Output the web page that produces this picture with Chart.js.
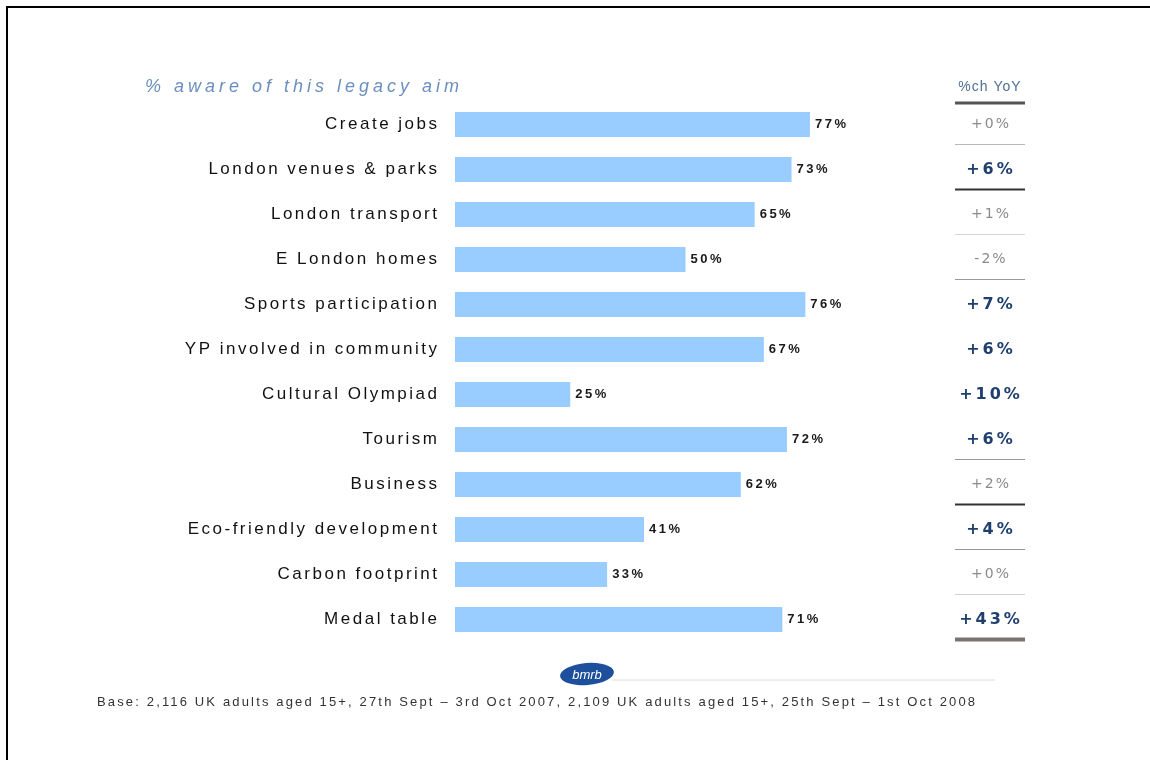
<!DOCTYPE html>
<html>
<head>
<meta charset="utf-8">
<script src="https://cdn.jsdelivr.net/npm/chart.js@4/dist/chart.umd.min.js"></script>
<style>
  html, body { margin: 0; padding: 0; background: #fff; }
  #wrap { position: relative; width: 1150px; height: 760px; }
  #frame { position: absolute; left: 6px; top: 6px; right: 0; bottom: 0;
           border-top: 2px solid #000; border-left: 2px solid #000; pointer-events: none; }
</style>
</head>
<body>
<div id="wrap">
  <canvas id="chart"></canvas>
  <div id="frame"></div>
</div>
<script>
var aims = ["Create jobs", "London venues & parks", "London transport", "E London homes",
    "Sports participation", "YP involved in community", "Cultural Olympiad", "Tourism",
    "Business", "Eco-friendly development", "Carbon footprint", "Medal table"];
var aware = [77, 73, 65, 50, 76, 67, 25, 72, 62, 41, 33, 71];
var yoyChange = ["+0%", "+6%", "+1%", "-2%", "+7%", "+6%", "+10%", "+6%", "+2%", "+4%", "+0%", "+43%"];
var yoySignificant = [false, true, false, false, true, true, true, true, false, true, false, true];

var chartTitle = "% aware of this legacy aim";
var yoyHeader = "%ch YoY";
var baseNote = "Base: 2,116 UK adults aged 15+, 27th Sept \u2013 3rd Oct 2007, 2,109 UK adults aged 15+, 25th Sept \u2013 1st Oct 2008";

// rule drawn under each row of the YoY column: [colour, width] or null
var rowRules = [["#b8b8b8", 1], ["#333", 2], ["#d8d8d8", 1], ["#999", 1], null, null, null,
    ["#999", 1], ["#333", 2], ["#999", 1], ["#d0d0d0", 1], ["#7a7470", 4]];

var letterSpacingPlugin = {
    id: "spacing",
    beforeDraw: function (chart) { chart.ctx.letterSpacing = "2.5px"; },
    beforeDatasetsDraw: function (chart) { chart.ctx.letterSpacing = "0px"; }
};

var overlayPlugin = {
    id: "overlay",
    afterDraw: function (chart) {
        var ctx = chart.ctx;
        var meta = chart.getDatasetMeta(0);
        var yScale = chart.scales.y;
        var colX = 990;
        ctx.save();

        // value labels at the end of each bar
        ctx.font = "bold 13px 'Liberation Sans', Arial, sans-serif";
        ctx.letterSpacing = "2.5px";
        ctx.fillStyle = "#1a1a1a";
        ctx.textAlign = "left";
        ctx.textBaseline = "middle";
        meta.data.forEach(function (bar, i) {
            ctx.fillText(aware[i] + "%", bar.x + 5, bar.y);
        });

        // YoY column
        ctx.textAlign = "center";
        yoyChange.forEach(function (txt, i) {
            var y = yScale.getPixelForValue(i);
            if (yoySignificant[i]) {
                ctx.font = "bold 16px 'DejaVu Sans', Verdana, sans-serif";
                ctx.fillStyle = "#1f3f6e";
                ctx.letterSpacing = "3px";
            } else {
                ctx.font = "14px 'DejaVu Sans', Verdana, sans-serif";
                ctx.fillStyle = "#8a8a8a";
                ctx.letterSpacing = "2px";
            }
            ctx.fillText(txt, colX + 1, y);
            var rule = rowRules[i];
            if (rule) {
                ctx.strokeStyle = rule[0];
                ctx.lineWidth = rule[1];
                ctx.beginPath();
                ctx.moveTo(colX - 35, y + 20);
                ctx.lineTo(colX + 35, y + 20);
                ctx.stroke();
            }
        });

        // column header and its rule
        ctx.font = "14px 'Liberation Sans', Arial, sans-serif";
        ctx.letterSpacing = "1px";
        ctx.fillStyle = "#4f6f96";
        ctx.fillText(yoyHeader, colX, 87);
        ctx.strokeStyle = "#555";
        ctx.lineWidth = 3;
        ctx.beginPath();
        ctx.moveTo(colX - 35, 103);
        ctx.lineTo(colX + 35, 103);
        ctx.stroke();

        // chart title
        ctx.textAlign = "left";
        ctx.font = "italic 18px 'Liberation Sans', Arial, sans-serif";
        ctx.letterSpacing = "4px";
        ctx.fillStyle = "#6a8fbf";
        ctx.fillText(chartTitle, 145, 87);

        // logo and rule
        ctx.strokeStyle = "#dcdcdc";
        ctx.lineWidth = 1;
        ctx.beginPath();
        ctx.moveTo(612, 680);
        ctx.lineTo(995, 680);
        ctx.stroke();
        ctx.fillStyle = "#1e4f9c";
        ctx.beginPath();
        ctx.ellipse(587, 674, 27, 11, -0.08, 0, Math.PI * 2);
        ctx.fill();
        ctx.fillStyle = "#fff";
        ctx.font = "italic 13px 'Liberation Sans', Arial, sans-serif";
        ctx.letterSpacing = "0px";
        ctx.textAlign = "center";
        ctx.fillText("bmrb", 587, 675);

        // base note
        ctx.textAlign = "left";
        ctx.font = "13px 'Liberation Sans', Arial, sans-serif";
        ctx.letterSpacing = "2.15px";
        ctx.fillStyle = "#333";
        ctx.fillText(baseNote, 97, 702);

        ctx.restore();
    }
};

var chart = new Chart(document.getElementById("chart"), {
    type: "bar",
    data: {
        labels: aims,
        datasets: [
            {
                data: aware,
                backgroundColor: "#99CCFF",
                borderWidth: 0,
                barPercentage: 0.56,
                categoryPercentage: 1
            }
        ]
    },
    options: {
        indexAxis: "y",
        responsive: true,
        maintainAspectRatio: false,
        animation: false,
        layout: {
            padding: { top: 102, bottom: 118, left: 0, right: 234 }
        },
        scales: {
            x: {
                display: false,
                min: 0,
                max: 100
            },
            y: {
                grid: { display: false, drawTicks: false },
                border: { display: false },
                ticks: {
                    color: "#111",
                    padding: 15.5,
                    font: { family: "'Liberation Sans', Arial, sans-serif", size: 17 }
                },
                afterFit: function (axis) {
                    axis.width = 455;
                }
            }
        },
        plugins: {
            legend: { display: false },
            tooltip: { enabled: false },
            title: { display: false }
        }
    },
    plugins: [letterSpacingPlugin, overlayPlugin]
});
</script>
</body>
</html>
